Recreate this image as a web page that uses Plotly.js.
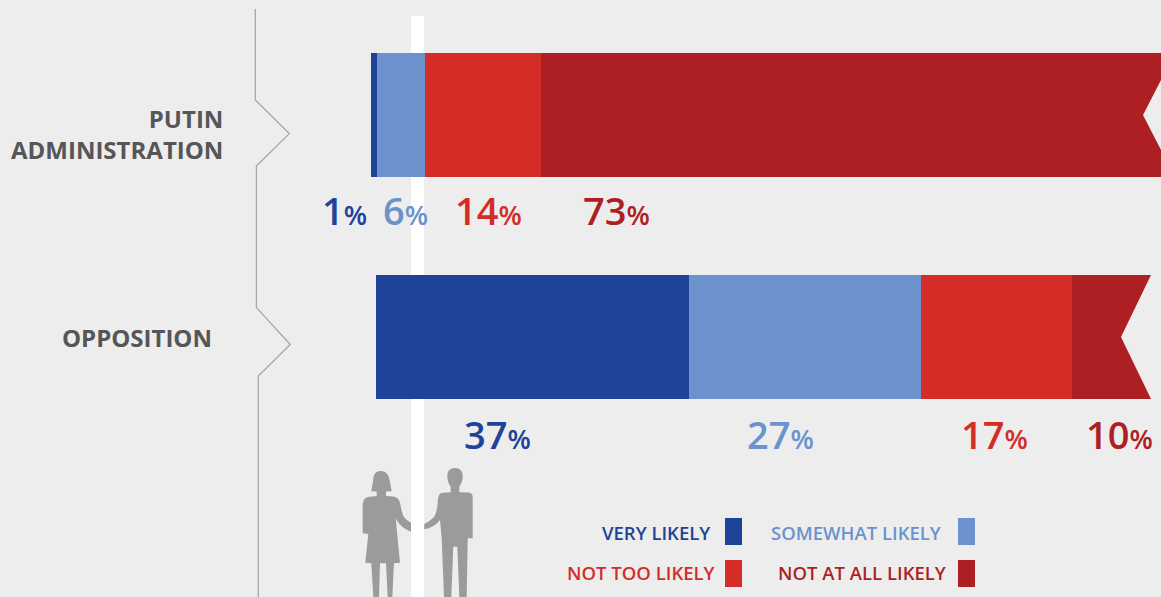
<!DOCTYPE html>
<html>
<head>
<meta charset="utf-8">
<script src="https://cdn.plot.ly/plotly-3.0.1.min.js"></script>
<style>html,body{margin:0;padding:0;background:#ededed;overflow:hidden}#chart{width:1161px;height:597px}</style>
</head>
<body>
<div id="chart"></div>
<script>
// Groups and response categories
const groups = ['PUTIN ADMINISTRATION', 'OPPOSITION'];
const responses = ['VERY LIKELY', 'SOMEWHAT LIKELY', 'NOT TOO LIKELY', 'NOT AT ALL LIKELY'];
const colors = ['#1f4399', '#6b92cc', '#d42c26', '#ad1f23'];

// Drawn segment lengths (in percent units of the bar scale)
const veryLikely = [0.71, 37.0];
const somewhatLikely = [5.67, 27.42];
const notTooLikely = [13.71, 17.85];
const notAtAllLikely = [73.3, 9.34];
const barStart = [-0.59, 0];

// Printed labels
const putinLabels = [1, 6, 14, 73];
const oppositionLabels = [37, 27, 17, 10];

// Label left edges and swatch layout (pixel overlay)
const putinLabelX = [322, 383, 455, 583];
const oppositionLabelX = [464, 747, 961, 1086];

const W = 1161, H = 597, BG = '#ededed';
const pxPerUnit = 8.46, zeroPx = 376;      // x scale of the bars
const rowPx = 222, firstRowPx = 115;       // y scale of the rows

const series = [veryLikely, somewhatLikely, notTooLikely, notAtAllLikely];
const running = barStart.slice();
const traces = series.map((vals, i) => {
  const base = running.slice();
  vals.forEach((v, k) => running[k] += v);
  return {
    type: 'bar', orientation: 'h', name: responses[i],
    y: [0, 1], x: vals, base: base, width: 124 / rowPx,
    marker: {color: colors[i], line: {width: 0}},
    hoverinfo: 'skip', showlegend: false
  };
});

// Bracket rule on the pixel overlay
traces.push({
  type: 'scatter', mode: 'lines', xaxis: 'x2', yaxis: 'y2',
  x: [255.3, 255.3, 289.3, 256.4, 256.4, 290.3, 258.3, 258.3],
  y: [9, 100, 133.6, 166, 307.6, 344.5, 376, 597],
  line: {color: '#a6a6a6', width: 1.3, shape: 'linear'},
  hoverinfo: 'skip', showlegend: false
});

const px = (type, x0, y0, x1, y1, color, layer) => ({
  type, xref: 'x2', yref: 'y2', x0, y0, x1, y1, fillcolor: color,
  line: {width: 0}, layer: layer || 'above'
});
const path = (d, color) => ({
  type: 'path', xref: 'x2', yref: 'y2', path: d, fillcolor: color,
  line: {width: 0}, layer: 'above'
});

const woman = 'M380.7 471 C375 471 373.5 475 373.2 480 L371.3 491.3 L376.7 491.5 L376.7 496 L368 497 C364 498 363 501 362.7 505 L362.7 533.3 L368.3 534 L365.3 562.7 L371.3 563.3 L373.3 597 L379 597 L380 563.3 L386 563.3 L387.7 597 L392.3 597 L394 563.3 L400 562.7 L395.7 518.3 C399 525 404 529 411 531.7 L411 522.7 C406 520 403 517 402 512 L400 503 C399 499 397 497 393 496.5 L386 496 L386 491.5 L391.7 491.3 L389.5 480 C389 475 386 471 380.7 471 Z';
const man = 'M455 468 C450 468 447.3 471 447.3 476 C447.3 481 449 484 450.7 487 L450.7 492.3 L443 492.8 C439 493.3 438 496 437.7 503 C437 510 436 514 434 517 C431 520 428 522 424.3 524 L424.3 529.3 C430 528.5 436 525 440 520 L441.7 538.3 L444 597 L451.3 597 L453.3 546.7 L457.3 546.7 L459.3 597 L466.7 597 L467.7 538.3 L472.7 538.3 L472.7 496.7 C472.5 494 471 492.7 468 492.6 L459.3 492.3 L459.3 487 C461 484 462.7 481 462.7 476 C462.7 471 460 468 455 468 Z';

const shapes = [
  px('rect', 411, 16, 424, 597, '#ffffff', 'below'),
  path('M1161 80 L1143 115 L1161 150 Z', BG),
  path('M1151 275 L1121 337 L1151 399 L1162 399 L1162 275 Z', BG),
  path(woman, '#9b9b9a'),
  path(man, '#9b9b9a'),
  px('rect', 725, 518, 742, 545, colors[0]),
  px('rect', 958, 518, 975, 545, colors[1]),
  px('rect', 725, 560, 742, 587, colors[2]),
  px('rect', 958, 560, 975, 587, colors[3])
];

const FONT = '"Open Sans", sans-serif';
const note = (text, x, y, anchor, size, color, weight) => ({
  text, x, y, xref: 'x2', yref: 'y2', xanchor: anchor, yanchor: 'middle',
  showarrow: false, borderpad: 0, borderwidth: 0, align: anchor,
  font: {family: FONT, size, color, weight: weight || 600}
});
const pct = (v, x, y, color) => note(
  v + '<span style="font-size:27px">%</span>', x, y, 'left', 38, color);

const annotations = [
  note('PUTIN<br>ADMINISTRATION', 223, 134, 'right', 24, '#555658', 700),
  note('OPPOSITION', 212, 337, 'right', 24, '#555658', 700),
  note(responses[0], 710, 532, 'right', 18.5, colors[0]),
  note(responses[1], 941, 532, 'right', 18.5, colors[1]),
  note(responses[2], 715, 572, 'right', 18.5, colors[2]),
  note(responses[3], 946, 572, 'right', 18.5, colors[3])
];
putinLabels.forEach((v, i) => annotations.push(pct(v, putinLabelX[i], 210, colors[i])));
oppositionLabels.forEach((v, i) => annotations.push(pct(v, oppositionLabelX[i], 434, colors[i])));

const layout = {
  width: W, height: H,
  margin: {l: 0, r: 0, t: 0, b: 0, pad: 0},
  paper_bgcolor: BG, plot_bgcolor: BG,
  barmode: 'overlay', bargap: 0,
  xaxis: {range: [-zeroPx / pxPerUnit, (W - zeroPx) / pxPerUnit], visible: false, fixedrange: true},
  yaxis: {range: [(H - firstRowPx) / rowPx, -firstRowPx / rowPx], visible: false, fixedrange: true,
          tickmode: 'array', tickvals: [0, 1], ticktext: groups},
  xaxis2: {range: [0, W], overlaying: 'x', visible: false, fixedrange: true},
  yaxis2: {range: [H, 0], overlaying: 'y', visible: false, fixedrange: true},
  shapes, annotations, showlegend: false,
  font: {family: FONT}
};
Plotly.newPlot('chart', traces, layout, {displayModeBar: false, staticPlot: true});
</script>
</body>
</html>
